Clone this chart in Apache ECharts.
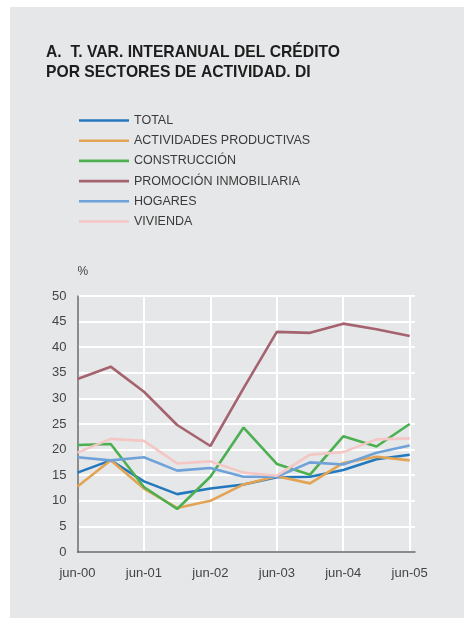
<!DOCTYPE html>
<html>
<head>
<meta charset="utf-8">
<script src="https://cdn.jsdelivr.net/npm/echarts@6/dist/echarts.min.js"></script>
<style>
  html, body { margin: 0; padding: 0; background: #ffffff; }
  #panel { position: absolute; left: 10px; top: 7px; width: 454px; height: 611px; background: #e6e7e9; }
  #chart { position: absolute; left: 0; top: 0; width: 464px; height: 618px; }
</style>
</head>
<body>
<div id="panel"></div>
<div id="chart"></div>
<script>
// semestral points, jun-00 .. jun-05
const periods = ['jun-00', 'dic-00', 'jun-01', 'dic-01', 'jun-02', 'dic-02', 'jun-03', 'dic-03', 'jun-04', 'dic-04', 'jun-05']
const xTickLabels = ['jun-00', 'jun-01', 'jun-02', 'jun-03', 'jun-04', 'jun-05']

const total = [15.5, 17.9, 13.8, 11.3, 12.4, 13.2, 14.6, 14.7, 16.0, 18.1, 19.0]
const actividades = [12.8, 17.9, 12.4, 8.6, 10.0, 13.2, 14.8, 13.4, 17.4, 18.6, 17.9]
const construccion = [20.9, 21.1, 12.7, 8.4, 14.7, 24.3, 17.2, 15.1, 22.6, 20.6, 25.0]
const promocion = [33.8, 36.2, 31.3, 24.8, 20.7, 32.0, 43.0, 42.8, 44.6, 43.5, 42.2]
const hogares = [18.5, 17.9, 18.5, 15.9, 16.4, 14.7, 14.7, 17.5, 17.1, 19.4, 20.8]
const vivienda = [19.4, 22.1, 21.7, 17.3, 17.7, 15.5, 14.9, 19.0, 19.5, 22.0, 22.2]

const seriesDefs = [
  { name: 'TOTAL', values: total, color: '#2379bd' },
  { name: 'ACTIVIDADES PRODUCTIVAS', values: actividades, color: '#e2a453' },
  { name: 'CONSTRUCCIÓN', values: construccion, color: '#4caf50' },
  { name: 'PROMOCIÓN INMOBILIARIA', values: promocion, color: '#a5636f' },
  { name: 'HOGARES', values: hogares, color: '#6fa2d8' },
  { name: 'VIVIENDA', values: vivienda, color: '#f4c6c4' },
]

const chart = echarts.init(document.getElementById('chart'))
const font = '"Liberation Sans", Arial, sans-serif'

const option = {
  animation: false,
  textStyle: { fontFamily: font },
  title: {
    text: 'A.  T. VAR. INTERANUAL DEL CRÉDITO\nPOR SECTORES DE ACTIVIDAD. DI',
    left: 46,
    top: 43,
    padding: 0,
    textStyle: { fontFamily: font, fontSize: 15.7, fontWeight: 'bold', color: '#1d1d1d', lineHeight: 20 },
  },
  legend: {
    orient: 'vertical',
    left: 79,
    top: 114,
    padding: 0,
    icon: 'rect',
    itemWidth: 50,
    itemHeight: 2.6,
    itemGap: 7.2,
    textStyle: { fontFamily: font, fontSize: 12.5, color: '#3a3a3a' },
    data: seriesDefs.map(s => s.name),
  },
  grid: {
    left: 77.5,
    right: 49,
    top: 296,
    bottom: 66,
  },
  xAxis: {
    type: 'value',
    min: 0,
    max: 10.16,
    interval: 2,
    axisLine: { show: true, onZero: false, lineStyle: { color: '#666666', width: 1.5 } },
    axisTick: { show: false },
    axisLabel: {
      color: '#444444',
      fontSize: 13,
      margin: 15,
      showMaxLabel: false,
      formatter: v => (Number.isInteger(v) && v % 2 === 0 ? xTickLabels[v / 2] : ''),
    },
    splitLine: {
      show: true,
      lineStyle: {
        color: ['#ffffff', '#ffffff', '#ffffff', '#ffffff', '#ffffff', '#ffffff', 'rgba(0,0,0,0)'],
        width: 2,
      },
    },
  },
  yAxis: {
    type: 'value',
    min: 0,
    max: 50,
    interval: 5,
    name: '%',
    nameLocation: 'end',
    nameGap: 18,
    nameTextStyle: { color: '#444444', fontSize: 12, align: 'left', padding: [0, 0, 0, 0] },
    axisLine: { show: true, lineStyle: { color: '#666666', width: 1.5 } },
    axisTick: { show: false },
    axisLabel: { color: '#444444', fontSize: 13, margin: 11 },
    splitLine: { show: true, lineStyle: { color: '#ffffff', width: 2 } },
  },
  series: seriesDefs.map(s => ({
    name: s.name,
    type: 'line',
    symbol: 'none',
    data: s.values.map((v, i) => [i, v]),
    lineStyle: { color: s.color, width: 2.6 },
    itemStyle: { color: s.color },
    z: 3,
  })),
}

chart.setOption(option)
</script>
</body>
</html>
